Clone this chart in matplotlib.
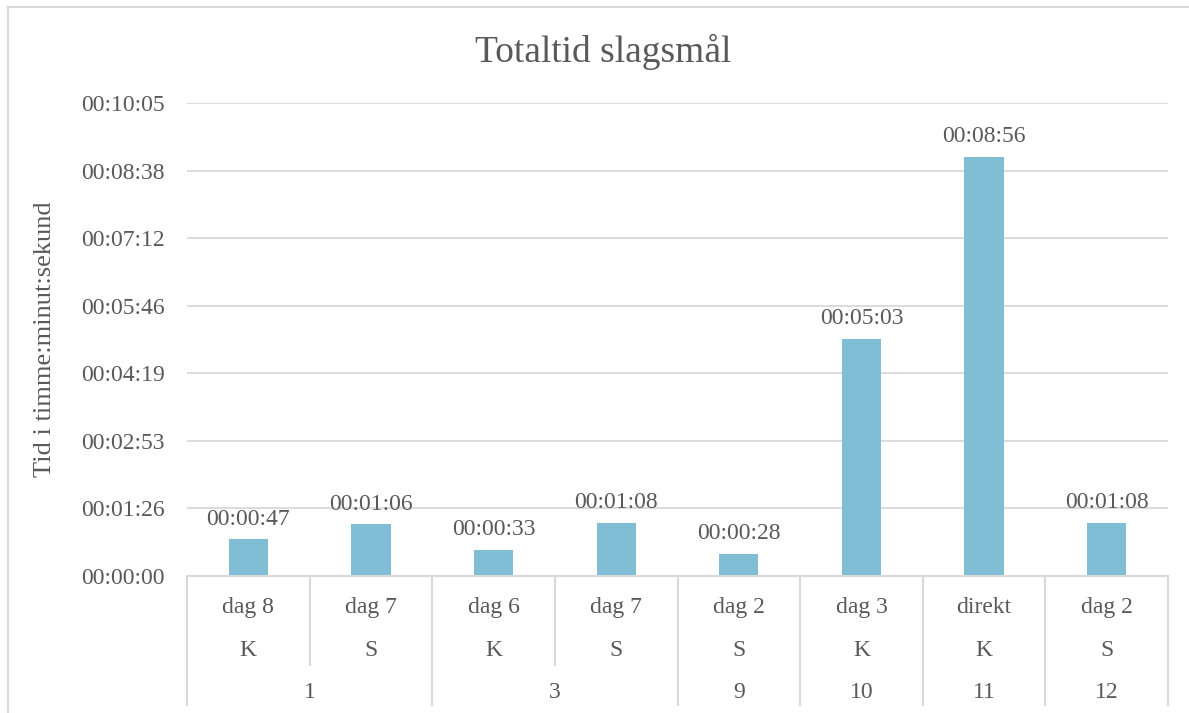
import numpy as np
import matplotlib.pyplot as plt
from matplotlib.lines import Line2D

# data: seconds of fighting per event
dag_labels = ["dag 8", "dag 7", "dag 6", "dag 7", "dag 2", "dag 3", "direkt", "dag 2"]
typ_labels = ["K", "S", "K", "S", "S", "K", "K", "S"]
groups = ["1", "3", "9", "10", "11", "12"]
group_sizes = [2, 2, 1, 1, 1, 1]
seconds = [47, 66, 33, 68, 28, 303, 536, 68]

grey = "#595959"
gridc = "#D9D9D9"
barc = "#7FBED4"
fs = 17
plt.rcParams['font.family'] = ['Liberation Serif', 'DejaVu Serif']


def hms(s):
    s = int(round(s))
    return "%02d:%02d:%02d" % (s // 3600, (s % 3600) // 60, s % 60)


fig = plt.figure(figsize=(11.89, 7.13), dpi=100)
ax = fig.add_axes([187/1189, 1-576/713, (1168-187)/1189, (576-103)/713])

x = np.arange(len(seconds))
ax.bar(x, seconds, width=0.32, color=barc, zorder=3)
for xi, s in zip(x, seconds):
    ax.annotate(hms(s), (xi, s), xytext=(0, 7), textcoords="offset points",
                ha="center", va="bottom", fontsize=fs, color=grey)

yt = np.arange(8) * 86.4
ax.set_yticks(yt)
ax.set_yticklabels([hms(v) for v in yt], fontsize=fs, color=grey)
ax.set_ylim(0, 604.8)
ax.set_xlim(-0.5, len(seconds) - 0.5)
ax.yaxis.grid(True, color=gridc, lw=1.3, zorder=0)
ax.tick_params(axis='y', length=0, pad=16)
ax.set_xticks([])
for sp in ax.spines.values():
    sp.set_visible(False)
ax.set_ylabel("Tid i timme:minut:sekund", fontsize=19, color=grey, labelpad=18)
fig.text(603/1189, 1-52/713, "Totaltid slagsmål", fontsize=27, color=grey, ha="center", va="center")

# multi-level category axis
tr = ax.get_xaxis_transform()
ax.plot([-0.5, len(seconds) - 0.5], [0, 0], color=gridc, lw=1.5, transform=tr, clip_on=False, zorder=4)
for xi, (d, t) in enumerate(zip(dag_labels, typ_labels)):
    ax.text(xi, -0.066, d, ha="center", va="center", fontsize=fs, color=grey, transform=tr)
    ax.text(xi, -0.157, t, ha="center", va="center", fontsize=fs, color=grey, transform=tr)
edges = np.concatenate([[0], np.cumsum(group_sizes)])
for g, a, b in zip(groups, edges[:-1], edges[1:]):
    ax.text((a + b - 1) / 2, -0.246, g, ha="center", va="center", fontsize=fs, color=grey, transform=tr)
    for inner in range(a + 1, b):
        ax.plot([inner - 0.5] * 2, [0, -0.188], color=gridc, lw=1.5, transform=tr, clip_on=False)
for e in edges:
    ax.plot([e - 0.5] * 2, [0, -0.273], color=gridc, lw=1.5, transform=tr, clip_on=False)

# chart border
fig.add_artist(Line2D([8/1189, 1], [1-7/713, 1-7/713], color=gridc, lw=1.5))
fig.add_artist(Line2D([8/1189, 8/1189], [0, 1-7/713], color=gridc, lw=1.5))

fig.savefig("out.png", dpi=100)
